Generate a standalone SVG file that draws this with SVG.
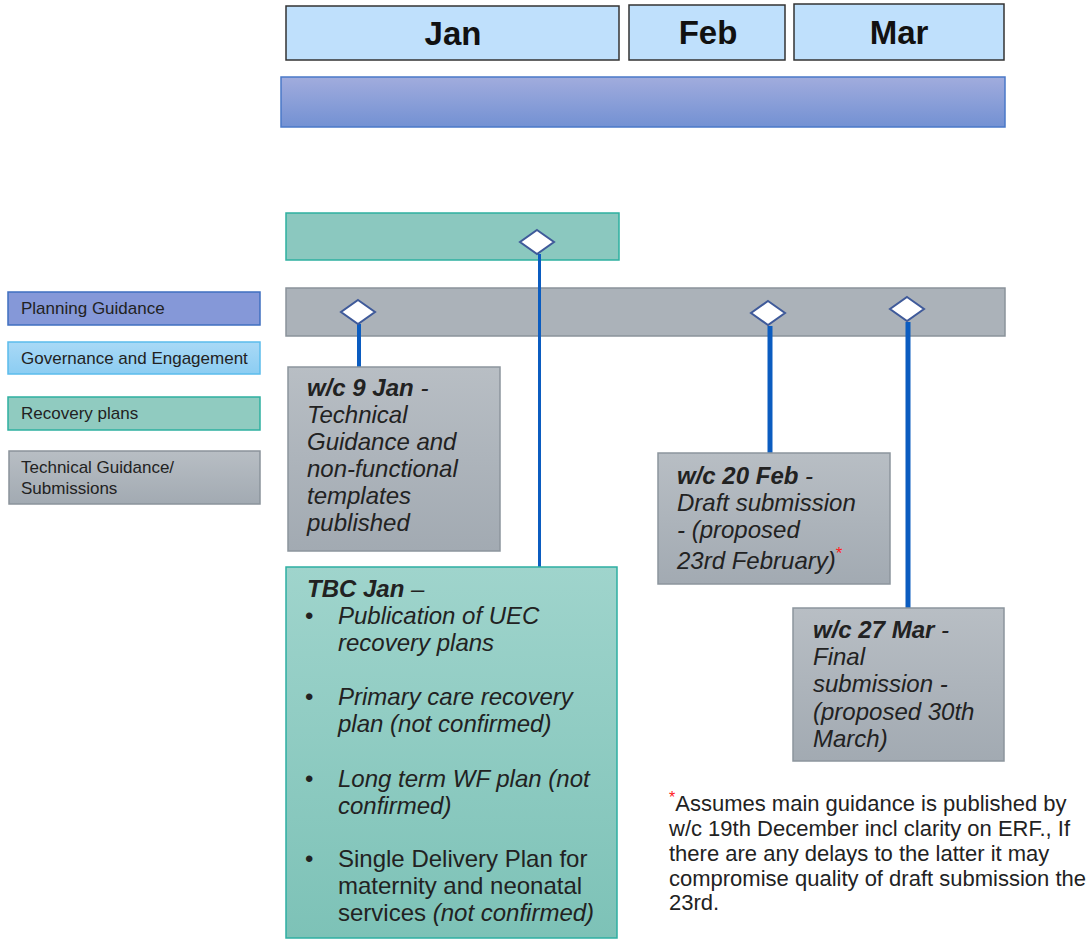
<svg xmlns="http://www.w3.org/2000/svg" width="1091" height="940" viewBox="0 0 1091 940">
<defs>
<linearGradient id="gPlan" x1="0" y1="0" x2="0" y2="1"><stop offset="0" stop-color="#a1acdd"/><stop offset="1" stop-color="#7391d3"/></linearGradient>
<linearGradient id="gGray" x1="0" y1="0" x2="0" y2="1"><stop offset="0" stop-color="#b8bec4"/><stop offset="1" stop-color="#a2aab2"/></linearGradient>
<linearGradient id="gTeal" x1="0" y1="0" x2="0" y2="1"><stop offset="0" stop-color="#9fd4cc"/><stop offset="1" stop-color="#7dc2b7"/></linearGradient>
<linearGradient id="gGov" x1="0" y1="0" x2="0" y2="1"><stop offset="0" stop-color="#a9d9f6"/><stop offset="1" stop-color="#8ccdf2"/></linearGradient>
<style>
.month{fill:#bfe0fc;stroke:#333;stroke-width:1.5}
.mt{font-family:"Liberation Sans",Arial,sans-serif;font-weight:bold;font-size:33px;fill:#111;text-anchor:middle}
.lg{font-family:"Liberation Sans",Arial,sans-serif;font-size:17px;fill:#222}
.bt{font-family:"Liberation Sans",Arial,sans-serif;font-size:24px;fill:#222;font-style:italic}
.bt.up{font-style:normal}
.it{font-style:italic}
.fn{font-family:"Liberation Sans",Arial,sans-serif;font-size:22px;fill:#222}
.gbox{fill:url(#gGray);stroke:#8c959d;stroke-width:1.5}
.dia{fill:#fff;stroke:#3f5a9a;stroke-width:2}
.conn{stroke:#0b5cc0;fill:none}
</style>
</defs>
<g id="months">
<rect class="month" x="286" y="6" width="333" height="54"/>
<text class="mt" x="453" y="45">Jan</text>
<rect class="month" x="629" y="5" width="156" height="55"/>
<text class="mt" x="708" y="44">Feb</text>
<rect class="month" x="794" y="4" width="210" height="56"/>
<text class="mt" x="899" y="44">Mar</text>
</g>
<g id="planning-bar"><rect x="281" y="77" width="724" height="50" fill="url(#gPlan)" stroke="#4a78c8" stroke-width="1.5"/></g>
<g id="recovery-bar"><rect x="286" y="213" width="333" height="47" fill="#8bc8bf" stroke="#2eb0a0" stroke-width="1.5"/></g>
<g id="tech-bar"><rect x="286" y="288" width="719" height="48" fill="#abb2b9" stroke="#8a939b" stroke-width="1.5"/></g>
<g id="legend">
<g id="lg-planning"><rect x="8" y="292" width="252" height="33" fill="#8598d8" stroke="#3f6fc0" stroke-width="1.5"/><text class="lg" x="21" y="314">Planning Guidance</text></g>
<g id="lg-governance"><rect x="8" y="342" width="252" height="32" fill="url(#gGov)" stroke="#5bbcec" stroke-width="1.5"/><text class="lg" x="21" y="364">Governance and Engagement</text></g>
<g id="lg-recovery"><rect x="8" y="397" width="252" height="33" fill="#90cbc0" stroke="#2eb0a0" stroke-width="1.5"/><text class="lg" x="21" y="419">Recovery plans</text></g>
<g id="lg-tech"><rect x="9" y="451" width="251" height="53" fill="url(#gGray)" stroke="#8a939b" stroke-width="1.5"/><text class="lg" x="21" y="473">Technical Guidance/</text><text class="lg" x="21" y="494">Submissions</text></g>
</g>
<g id="connectors">
<line class="conn" x1="359" y1="324" x2="359" y2="367" stroke-width="4"/>
<line class="conn" x1="539.5" y1="254" x2="539.5" y2="567" stroke-width="3"/>
<line class="conn" x1="770" y1="326" x2="770" y2="453" stroke-width="5"/>
<line class="conn" x1="908" y1="322" x2="908" y2="608" stroke-width="5"/>
</g>
<g id="milestones">
<polygon class="dia" points="358,300 375,312 358,324 341,312"/>
<polygon class="dia" points="537,230 554,242 537,254 520,242"/>
<polygon class="dia" points="768,301 785,313 768,325 751,313"/>
<polygon class="dia" points="907,297 924,309 907,321 890,309"/>
</g>
<g id="box-9jan">
<rect class="gbox" x="288" y="367" width="212" height="184"/>
<text class="bt" x="307" y="396"><tspan font-weight="bold">w/c 9 Jan</tspan> -</text>
<text class="bt" x="307" y="423">Technical</text>
<text class="bt" x="307" y="450">Guidance and</text>
<text class="bt" x="307" y="477">non-functional</text>
<text class="bt" x="307" y="504">templates</text>
<text class="bt" x="307" y="531">published</text>
</g>
<g id="box-tbcjan">
<rect x="286" y="567" width="331" height="371" fill="url(#gTeal)" stroke="#2eafa2" stroke-width="1.5"/>
<text class="bt" x="307" y="597" font-weight="bold">TBC Jan <tspan font-weight="normal">–</tspan></text>
<text class="bt up" x="305" y="624">•</text>
<text class="bt" x="338" y="624">Publication of UEC</text>
<text class="bt" x="338" y="651">recovery plans</text>
<text class="bt up" x="305" y="705">•</text>
<text class="bt" x="338" y="705">Primary care recovery</text>
<text class="bt" x="338" y="732">plan (not confirmed)</text>
<text class="bt up" x="305" y="787">•</text>
<text class="bt" x="338" y="787">Long term WF plan (not</text>
<text class="bt" x="338" y="814">confirmed)</text>
<text class="bt up" x="305" y="867">•</text>
<text class="bt up" x="338" y="867">Single Delivery Plan for</text>
<text class="bt up" x="338" y="894">maternity and neonatal</text>
<text class="bt up" x="338" y="921">services <tspan class="it">(not confirmed)</tspan></text>
</g>
<g id="box-20feb">
<rect class="gbox" x="658" y="453" width="232" height="131"/>
<text class="bt" x="677" y="484"><tspan font-weight="bold">w/c 20 Feb</tspan> -</text>
<text class="bt" x="677" y="511">Draft submission</text>
<text class="bt" x="677" y="538">- (proposed</text>
<text class="bt" x="677" y="569">23rd February)<tspan fill="#ff2020" font-style="normal" font-size="17px" dy="-10">*</tspan></text>
</g>
<g id="box-27mar">
<rect class="gbox" x="793" y="608" width="211" height="153"/>
<text class="bt" x="813" y="638"><tspan font-weight="bold">w/c 27 Mar</tspan> -</text>
<text class="bt" x="813" y="665">Final</text>
<text class="bt" x="813" y="692">submission -</text>
<text class="bt" x="813" y="720">(proposed 30th</text>
<text class="bt" x="813" y="747">March)</text>
</g>
<g id="footnote">
<text class="fn" x="669" y="811"><tspan fill="#ff2020" font-size="16px" dy="-8">*</tspan><tspan dy="8">Assumes main guidance is published by</tspan></text>
<text class="fn" x="669" y="836">w/c 19th December incl clarity on ERF., If</text>
<text class="fn" x="669" y="861">there are any delays to the latter it may</text>
<text class="fn" x="669" y="886">compromise quality of draft submission the</text>
<text class="fn" x="669" y="910">23rd.</text>
</g>
</svg>
